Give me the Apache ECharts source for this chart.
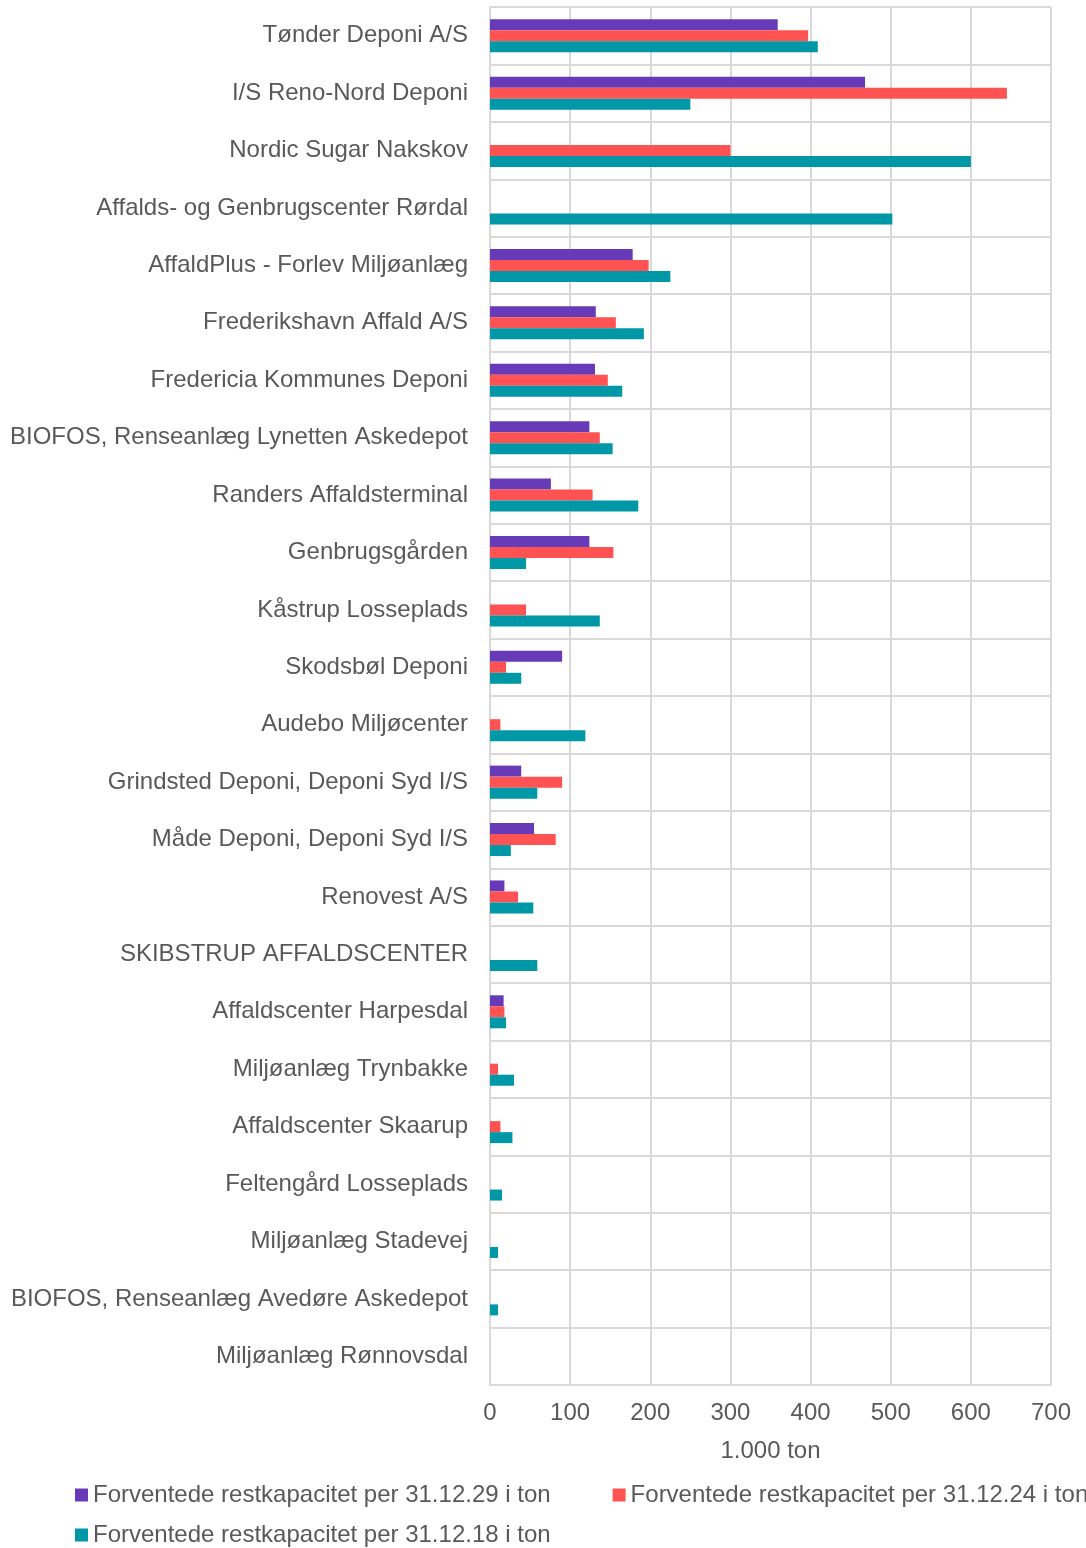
<!DOCTYPE html>
<html>
<head>
<meta charset="utf-8">
<script src="https://cdn.jsdelivr.net/npm/echarts@6/dist/echarts.min.js"></script>
<style>
  html, body { margin: 0; padding: 0; background: #fff; }
  #chart { width: 1086px; height: 1548px; }
</style>
</head>
<body>
<div id="chart"></div>
<script>
const sites = [
    'Tønder Deponi A/S',
    'I/S Reno-Nord Deponi',
    'Nordic Sugar Nakskov',
    'Affalds- og Genbrugscenter Rørdal',
    'AffaldPlus - Forlev Miljøanlæg',
    'Frederikshavn Affald A/S',
    'Fredericia Kommunes Deponi',
    'BIOFOS, Renseanlæg Lynetten Askedepot',
    'Randers Affaldsterminal',
    'Genbrugsgården',
    'Kåstrup Losseplads',
    'Skodsbøl Deponi',
    'Audebo Miljøcenter',
    'Grindsted Deponi, Deponi Syd I/S',
    'Måde Deponi, Deponi Syd I/S',
    'Renovest A/S',
    'SKIBSTRUP AFFALDSCENTER',
    'Affaldscenter Harpesdal',
    'Miljøanlæg Trynbakke',
    'Affaldscenter Skaarup',
    'Feltengård Losseplads',
    'Miljøanlæg Stadevej',
    'BIOFOS, Renseanlæg Avedøre Askedepot',
    'Miljøanlæg Rønnovsdal'
];

// 1.000 ton
const cap2029 = [359, 468, 0, 0, 178, 132, 131, 124, 76, 124, 0, 90, 0, 39, 55, 18, 0, 17, 0, 0, 0, 0, 0, 0];
const cap2024 = [397, 645, 300, 0, 198, 157, 147, 137, 128, 154, 45, 20, 13, 90, 82, 35, 0, 18, 10, 13, 0, 0, 0, 0];
const cap2018 = [409, 250, 600, 502, 225, 192, 165, 153, 185, 45, 137, 39, 119, 59, 26, 54, 59, 20, 30, 28, 15, 10, 10, 0];

const seriesNames = [
    'Forventede restkapacitet per 31.12.29 i ton',
    'Forventede restkapacitet per 31.12.24 i ton',
    'Forventede restkapacitet per 31.12.18 i ton'
];
const xTicks = [0, 700, 100];

const textColor = '#595959';
const gridColor = '#D9D9D9';
const font = 'Liberation Sans, Arial, sans-serif';
const fontSize = 24;

const chart = echarts.init(document.getElementById('chart'));

function barSeries(name, data, color) {
    return {
        name: name,
        type: 'bar',
        data: data,
        barWidth: 11,
        barGap: '0%',
        itemStyle: { color: color },
        animation: false
    };
}

function legendRow(top, names) {
    return {
        left: 75,
        top: top,
        padding: 0,
        width: 2000,
        itemWidth: 13,
        itemHeight: 13,
        itemGap: 62,
        icon: 'rect',
        textStyle: { fontSize: fontSize, color: textColor, fontFamily: font },
        data: names
    };
}

chart.setOption({
    textStyle: { fontFamily: font },
    grid: {
        left: 490,
        right: 35,
        top: 7,
        bottom: 163
    },
    // two legend rows, like the original
    legend: [
        legendRow(1483, seriesNames.slice(0, 2)),
        legendRow(1523, seriesNames.slice(2))
    ],
    xAxis: {
        type: 'value',
        min: xTicks[0],
        max: xTicks[1],
        interval: xTicks[2],
        name: '1.000 ton',
        nameLocation: 'middle',
        nameGap: 54,
        nameTextStyle: { fontSize: fontSize, color: textColor },
        axisLine: { show: true, lineStyle: { color: gridColor, width: 2 } },
        axisTick: { show: false },
        axisLabel: { fontSize: fontSize, color: textColor, margin: 16 },
        splitLine: { show: true, lineStyle: { color: gridColor, width: 2 } }
    },
    yAxis: {
        type: 'category',
        data: sites,
        inverse: true,
        axisLine: { show: true, lineStyle: { color: gridColor, width: 2 } },
        axisTick: { show: false },
        axisLabel: { fontSize: fontSize, color: textColor, margin: 22, interval: 0, padding: [4, 0, 0, 0] },
        splitLine: { show: true, lineStyle: { color: gridColor, width: 2 } }
    },
    series: [
        barSeries(seriesNames[0], cap2029, '#673AB7'),
        barSeries(seriesNames[1], cap2024, '#FF5252'),
        barSeries(seriesNames[2], cap2018, '#0097A7')
    ]
});
</script>
</body>
</html>
